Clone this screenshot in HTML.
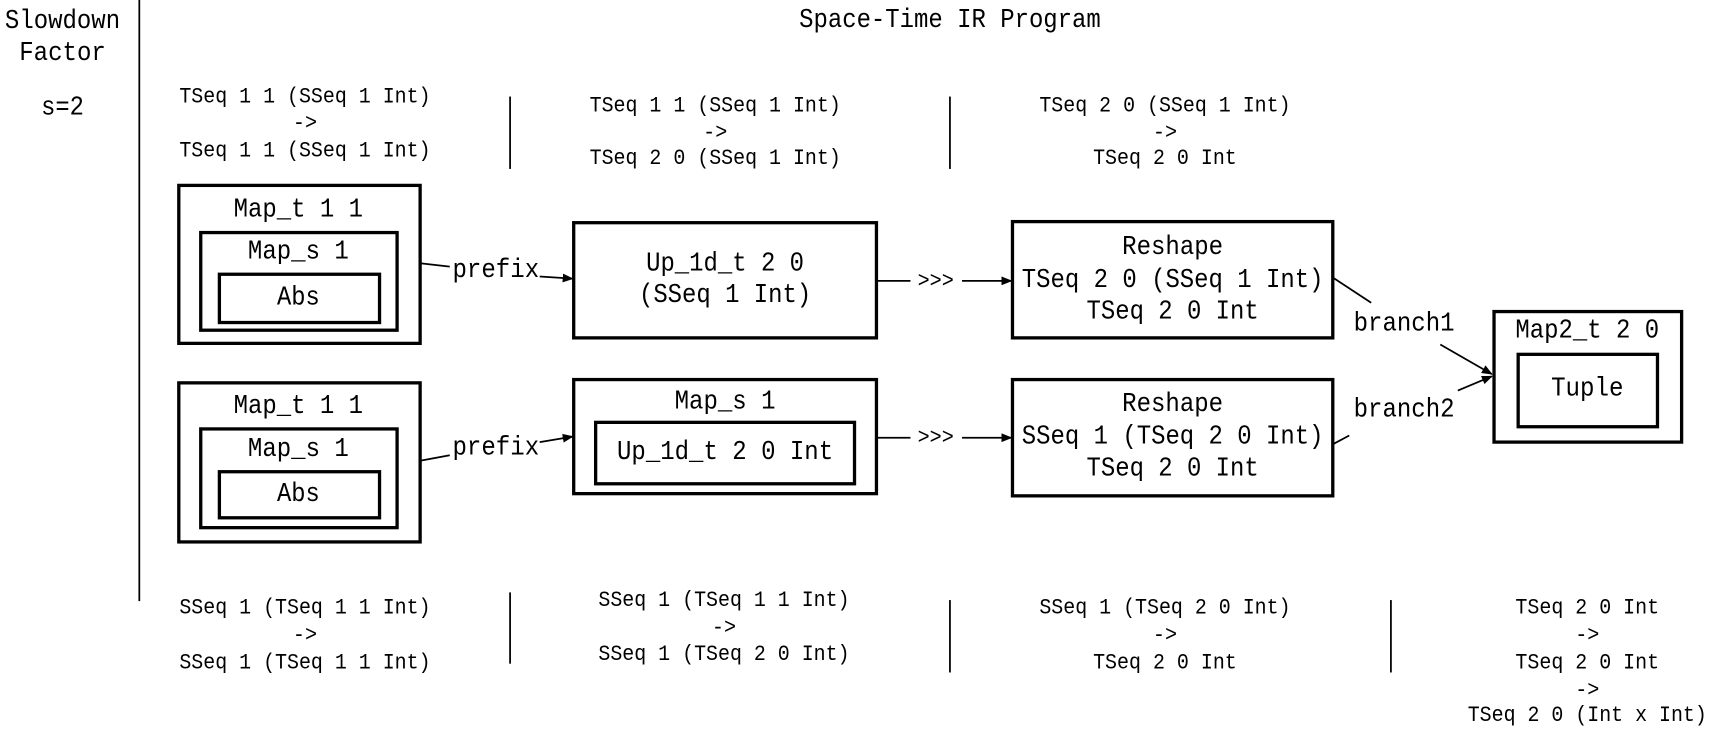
<!DOCTYPE html>
<html><head><meta charset="utf-8"><style>
html,body{margin:0;padding:0;background:#fff;}
svg{display:block;}
text{font-family:"Liberation Mono",monospace;fill:#000;text-anchor:middle;dominant-baseline:central;}
.s{font-size:20.5px;}
.b{font-size:24.5px;}
rect{fill:none;stroke:#000;stroke-width:3;}
line{stroke:#000;stroke-width:1.6;}
</style></head><body>
<svg width="1720" height="735" viewBox="0 0 1568 670" preserveAspectRatio="none">
<defs><marker id="a" markerWidth="10" markerHeight="8" refX="9" refY="4" orient="auto" markerUnits="userSpaceOnUse"><path d="M0,0 L10,4 L0,8 z" fill="#000"/></marker></defs>
<g lengthAdjust="spacingAndGlyphs">
<text class="b" x="57" y="20" textLength="105" lengthAdjust="spacingAndGlyphs">Slowdown</text>
<text class="b" x="57" y="49" textLength="79" lengthAdjust="spacingAndGlyphs">Factor</text>
<text class="b" x="57" y="99" textLength="39" lengthAdjust="spacingAndGlyphs">s=2</text>
<line x1="127" y1="0" x2="127" y2="548"/>
<text class="b" x="866" y="19" textLength="275" lengthAdjust="spacingAndGlyphs">Space-Time IR Program</text>

<text class="s" x="278" y="88" textLength="229" lengthAdjust="spacingAndGlyphs">TSeq 1 1 (SSeq 1 Int)</text>
<text class="s" x="278" y="112" textLength="22" lengthAdjust="spacingAndGlyphs">-&gt;</text>
<text class="s" x="278" y="137" textLength="229" lengthAdjust="spacingAndGlyphs">TSeq 1 1 (SSeq 1 Int)</text>
<line x1="465" y1="88" x2="465" y2="154"/>
<text class="s" x="652" y="96" textLength="229" lengthAdjust="spacingAndGlyphs">TSeq 1 1 (SSeq 1 Int)</text>
<text class="s" x="652" y="121" textLength="22" lengthAdjust="spacingAndGlyphs">-&gt;</text>
<text class="s" x="652" y="144" textLength="229" lengthAdjust="spacingAndGlyphs">TSeq 2 0 (SSeq 1 Int)</text>
<line x1="866" y1="88" x2="866" y2="154"/>
<text class="s" x="1062" y="96" textLength="229" lengthAdjust="spacingAndGlyphs">TSeq 2 0 (SSeq 1 Int)</text>
<text class="s" x="1062" y="121" textLength="22" lengthAdjust="spacingAndGlyphs">-&gt;</text>
<text class="s" x="1062" y="144" textLength="131" lengthAdjust="spacingAndGlyphs">TSeq 2 0 Int</text>

<rect x="163" y="169" width="220" height="144"/>
<text class="b" x="272" y="192" textLength="118" lengthAdjust="spacingAndGlyphs">Map_t 1 1</text>
<rect x="183" y="212" width="179" height="89"/>
<text class="b" x="272" y="230" textLength="92" lengthAdjust="spacingAndGlyphs">Map_s 1</text>
<rect x="200" y="250" width="146" height="44"/>
<text class="b" x="272" y="272" textLength="39" lengthAdjust="spacingAndGlyphs">Abs</text>
<line x1="383" y1="240" x2="410" y2="243"/>
<text class="b" x="452" y="247" textLength="79" lengthAdjust="spacingAndGlyphs">prefix</text>
<line x1="492" y1="252" x2="522" y2="254" marker-end="url(#a)"/>
<rect x="523" y="203" width="276" height="105"/>
<text class="b" x="661" y="241" textLength="144" lengthAdjust="spacingAndGlyphs">Up_1d_t 2 0</text>
<text class="b" x="661" y="270" textLength="157" lengthAdjust="spacingAndGlyphs">(SSeq 1 Int)</text>
<line x1="799" y1="256" x2="830" y2="256"/>
<text class="s" x="853" y="256" textLength="33" lengthAdjust="spacingAndGlyphs">&gt;&gt;&gt;</text>
<line x1="877" y1="256" x2="922" y2="256" marker-end="url(#a)"/>
<rect x="923" y="202" width="292" height="106"/>
<text class="b" x="1069" y="226" textLength="92" lengthAdjust="spacingAndGlyphs">Reshape</text>
<text class="b" x="1069" y="256" textLength="275" lengthAdjust="spacingAndGlyphs">TSeq 2 0 (SSeq 1 Int)</text>
<text class="b" x="1069" y="285" textLength="157" lengthAdjust="spacingAndGlyphs">TSeq 2 0 Int</text>
<line x1="1215" y1="253" x2="1250" y2="276"/>
<text class="b" x="1280" y="296" textLength="92" lengthAdjust="spacingAndGlyphs">branch1</text>
<line x1="1313" y1="314" x2="1360" y2="341" marker-end="url(#a)"/>
<rect x="1362" y="284" width="171" height="119"/>
<text class="b" x="1447" y="302" textLength="131" lengthAdjust="spacingAndGlyphs">Map2_t 2 0</text>
<rect x="1384" y="323" width="127" height="66"/>
<text class="b" x="1447" y="355" textLength="66" lengthAdjust="spacingAndGlyphs">Tuple</text>

<rect x="163" y="349" width="220" height="145"/>
<text class="b" x="272" y="371" textLength="118" lengthAdjust="spacingAndGlyphs">Map_t 1 1</text>
<rect x="183" y="391" width="179" height="90"/>
<text class="b" x="272" y="410" textLength="92" lengthAdjust="spacingAndGlyphs">Map_s 1</text>
<rect x="200" y="430" width="146" height="42"/>
<text class="b" x="272" y="451" textLength="39" lengthAdjust="spacingAndGlyphs">Abs</text>
<line x1="383" y1="420" x2="410" y2="415"/>
<text class="b" x="452" y="409" textLength="79" lengthAdjust="spacingAndGlyphs">prefix</text>
<line x1="492" y1="403" x2="522" y2="398" marker-end="url(#a)"/>
<rect x="523" y="346" width="276" height="104"/>
<text class="b" x="661" y="367" textLength="92" lengthAdjust="spacingAndGlyphs">Map_s 1</text>
<rect x="543" y="385" width="236" height="56"/>
<text class="b" x="661" y="413" textLength="197" lengthAdjust="spacingAndGlyphs">Up_1d_t 2 0 Int</text>
<line x1="799" y1="399" x2="830" y2="399"/>
<text class="s" x="853" y="399" textLength="33" lengthAdjust="spacingAndGlyphs">&gt;&gt;&gt;</text>
<line x1="877" y1="399" x2="922" y2="399" marker-end="url(#a)"/>
<rect x="923" y="346" width="292" height="106"/>
<text class="b" x="1069" y="369" textLength="92" lengthAdjust="spacingAndGlyphs">Reshape</text>
<text class="b" x="1069" y="399" textLength="275" lengthAdjust="spacingAndGlyphs">SSeq 1 (TSeq 2 0 Int)</text>
<text class="b" x="1069" y="428" textLength="157" lengthAdjust="spacingAndGlyphs">TSeq 2 0 Int</text>
<line x1="1215" y1="405" x2="1230" y2="397"/>
<text class="b" x="1280" y="374" textLength="92" lengthAdjust="spacingAndGlyphs">branch2</text>
<line x1="1329" y1="356" x2="1360" y2="343" marker-end="url(#a)"/>

<text class="s" x="278" y="554" textLength="229" lengthAdjust="spacingAndGlyphs">SSeq 1 (TSeq 1 1 Int)</text>
<text class="s" x="278" y="579" textLength="22" lengthAdjust="spacingAndGlyphs">-&gt;</text>
<text class="s" x="278" y="604" textLength="229" lengthAdjust="spacingAndGlyphs">SSeq 1 (TSeq 1 1 Int)</text>
<line x1="465" y1="540" x2="465" y2="605"/>
<text class="s" x="660" y="547" textLength="229" lengthAdjust="spacingAndGlyphs">SSeq 1 (TSeq 1 1 Int)</text>
<text class="s" x="660" y="572" textLength="22" lengthAdjust="spacingAndGlyphs">-&gt;</text>
<text class="s" x="660" y="596" textLength="229" lengthAdjust="spacingAndGlyphs">SSeq 1 (TSeq 2 0 Int)</text>
<line x1="866" y1="547" x2="866" y2="613"/>
<text class="s" x="1062" y="554" textLength="229" lengthAdjust="spacingAndGlyphs">SSeq 1 (TSeq 2 0 Int)</text>
<text class="s" x="1062" y="579" textLength="22" lengthAdjust="spacingAndGlyphs">-&gt;</text>
<text class="s" x="1062" y="604" textLength="131" lengthAdjust="spacingAndGlyphs">TSeq 2 0 Int</text>
<line x1="1268" y1="547" x2="1268" y2="613"/>
<text class="s" x="1447" y="554" textLength="131" lengthAdjust="spacingAndGlyphs">TSeq 2 0 Int</text>
<text class="s" x="1447" y="579" textLength="22" lengthAdjust="spacingAndGlyphs">-&gt;</text>
<text class="s" x="1447" y="604" textLength="131" lengthAdjust="spacingAndGlyphs">TSeq 2 0 Int</text>
<text class="s" x="1447" y="629" textLength="22" lengthAdjust="spacingAndGlyphs">-&gt;</text>
<text class="s" x="1447" y="652" textLength="218" lengthAdjust="spacingAndGlyphs">TSeq 2 0 (Int x Int)</text>
</g>
</svg>
</body></html>
